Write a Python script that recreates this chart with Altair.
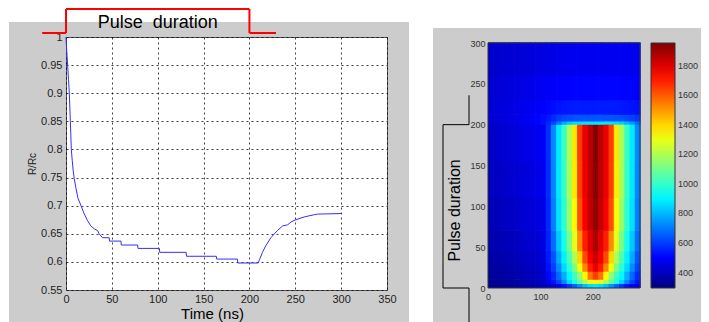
import altair as alt
import pandas as pd

# ---------------- left panel: R/Rc vs time ----------------
time_ns = [0.0, 0.8, 1.8, 2.7, 3.6, 4.7, 5.8, 6.8, 8.0, 9.0, 10.6, 13.1, 16.1, 19.7,
           23.3, 27.0, 31.4, 34.3, 36.1, 39.8, 47.1, 47.5, 59.9, 60.3, 78.1, 78.5,
           101.8, 102.2, 131.0, 131.4, 163.9, 164.3, 186.9, 187.3, 209.5, 211.0,
           214.2, 217.9, 223.4, 230.7, 236.2, 241.7, 245.3, 250.7, 259.8, 270.8,
           274.4, 300.0]
r_over_rc = [1.000, 0.975, 0.950, 0.925, 0.900, 0.852, 0.800, 0.780, 0.760, 0.748,
             0.733, 0.713, 0.701, 0.686, 0.674, 0.664, 0.658, 0.656, 0.650, 0.643,
             0.643, 0.637, 0.637, 0.630, 0.630, 0.624, 0.624, 0.617, 0.617, 0.610,
             0.610, 0.605, 0.605, 0.598, 0.598, 0.604, 0.617, 0.629, 0.643, 0.656,
             0.664, 0.666, 0.671, 0.675, 0.680, 0.684, 0.685, 0.686]
pulse_start_ns = 0
pulse_end_ns = 200
x_ticks = [0, 50, 100, 150, 200, 250, 300, 350]
y_ticks = [0.55, 0.6, 0.65, 0.7, 0.75, 0.8, 0.85, 0.9, 0.95, 1.0]

# ---------------- right panel: heat map ----------------
heat_x_edges = [0, 10, 20, 30, 40, 50, 60, 70, 80, 90, 100, 110, 120, 130, 140, 150,
                160, 170, 180, 190, 200, 210, 220, 230, 240, 250, 260, 270, 280, 290]
heat_y_edges = [0, 5, 10, 20, 30, 45, 70, 110, 155, 200, 204, 212, 230, 260, 300]
heat_values = [
    [320, 325, 330, 335, 340, 348, 356, 364, 372, 380, 395, 415, 440, 480, 530, 590, 660, 740, 810, 860, 880, 860, 810, 740, 660, 590, 530, 480, 440],
    [330, 335, 340, 345, 352, 360, 368, 376, 384, 392, 410, 470, 530, 610, 720, 850, 960, 1080, 1200, 1290, 1330, 1290, 1200, 1080, 960, 850, 720, 610, 530],
    [340, 345, 350, 356, 362, 370, 378, 386, 394, 402, 420, 500, 570, 670, 790, 910, 1020, 1150, 1340, 1560, 1650, 1560, 1340, 1150, 1020, 910, 790, 670, 570],
    [350, 355, 360, 366, 372, 380, 388, 396, 404, 412, 430, 525, 610, 730, 860, 980, 1120, 1320, 1530, 1700, 1780, 1700, 1530, 1320, 1120, 980, 860, 730, 610],
    [360, 365, 370, 376, 382, 390, 398, 406, 414, 422, 440, 540, 640, 780, 900, 1040, 1200, 1400, 1630, 1760, 1840, 1760, 1630, 1400, 1200, 1040, 900, 780, 640],
    [370, 376, 382, 388, 394, 402, 410, 418, 426, 434, 450, 555, 680, 830, 950, 1110, 1290, 1520, 1700, 1800, 1880, 1800, 1700, 1520, 1290, 1110, 950, 830, 680],
    [385, 391, 397, 403, 409, 417, 425, 433, 441, 449, 462, 565, 710, 870, 990, 1160, 1340, 1620, 1760, 1845, 1920, 1845, 1760, 1620, 1340, 1160, 990, 870, 710],
    [400, 406, 412, 418, 424, 432, 440, 448, 456, 464, 476, 572, 722, 882, 1005, 1185, 1365, 1645, 1775, 1855, 1935, 1855, 1775, 1645, 1365, 1185, 1005, 882, 722],
    [415, 421, 427, 433, 439, 447, 455, 463, 471, 479, 490, 575, 725, 885, 1010, 1190, 1370, 1650, 1780, 1860, 1945, 1860, 1780, 1650, 1370, 1190, 1010, 885, 725],
    [430, 436, 442, 448, 454, 462, 470, 480, 490, 505, 525, 560, 620, 700, 780, 830, 860, 870, 880, 880, 880, 880, 880, 870, 860, 840, 800, 750, 680],
    [432, 438, 444, 450, 456, 464, 472, 482, 492, 505, 520, 540, 570, 600, 620, 630, 640, 640, 640, 640, 640, 640, 640, 640, 635, 630, 620, 610, 590],
    [435, 440, 445, 450, 456, 463, 470, 478, 486, 494, 502, 510, 520, 530, 535, 540, 545, 545, 545, 545, 545, 545, 545, 545, 545, 540, 535, 530, 525],
    [430, 434, 438, 442, 446, 452, 458, 464, 470, 476, 482, 488, 492, 496, 500, 503, 505, 506, 507, 507, 507, 507, 507, 507, 507, 506, 505, 504, 503],
    [420, 423, 426, 429, 432, 436, 440, 444, 448, 452, 456, 460, 464, 468, 472, 474, 476, 478, 480, 480, 480, 480, 480, 480, 480, 480, 480, 480, 480],
]
heat_x_ticks = [0, 100, 200]
heat_y_ticks = [0, 50, 100, 150, 200, 250, 300]
colorbar_ticks = [400, 600, 800, 1000, 1200, 1400, 1600, 1800]
jet_stops = [295, 502.5, 917.5, 1332.5, 1747.5, 1955]
jet_colors = ["#00007f", "#0000ff", "#00ffff", "#ffff00", "#ff0000", "#7f0000"]

FONT = "Liberation Sans"
GRAY = "#cccccc"

line_df = pd.DataFrame({"t": time_ns, "r": r_over_rc})
one = pd.DataFrame({"k": [0]})

heat_rows = []
for j in range(len(heat_y_edges) - 1):
    for i in range(len(heat_x_edges) - 1):
        heat_rows.append({"x0": heat_x_edges[i], "x1": heat_x_edges[i + 1],
                          "y0": heat_y_edges[j], "y1": heat_y_edges[j + 1],
                          "v": heat_values[j][i]})
heat_df = pd.DataFrame(heat_rows)

# ---------- left chart ----------
xs = alt.Scale(domain=[0, 350], nice=False, zero=False)
ys = alt.Scale(domain=[0.55, 1.0], nice=False, zero=False)

# frame of the whole picture, relative to the left plot's top-left corner
PAD_LEFT = 58    # image x = 8
PAD_TOP = 29     # image y = 8
PAD_RIGHT = 635  # image x = 701 (page width limit)
PAD_BOTTOM = 285 # image y = 322

def white(x1, x2, y1, y2):
    return alt.Chart(one).mark_rect(color="white").encode(
        x=alt.value(x1), x2=alt.value(x2), y=alt.value(y1), y2=alt.value(y2))

whites = [
    white(-80, 700, -45, -15),
    white(343, 700, -15, -9),
    white(343, 367, -45, 320),
    white(-80, -57, -45, 320),
]

line = alt.Chart(line_df).mark_line(color="#3030ff", strokeWidth=1).encode(
    x=alt.X("t:Q", scale=xs, axis=alt.Axis(
        values=x_ticks, grid=True, gridDash=[2, 3], gridColor="#000", gridOpacity=0.75,
        domain=False, ticks=False, labelFlush=False, labelFontSize=11, labelColor="#222",
        labelFont=FONT, labelPadding=3, title="Time (ns)", titleFontSize=15,
        titleFontWeight="normal", titleColor="#000", titleFont=FONT, titleX=146,
        titleY=28, titleBaseline="alphabetic")),
    y=alt.Y("r:Q", scale=ys, axis=alt.Axis(
        values=y_ticks, format="~g", grid=True, gridDash=[2, 3], gridColor="#000",
        gridOpacity=0.75, domain=False, ticks=False, labelFlush=False, labelFontSize=11,
        labelColor="#222", labelFont=FONT, labelPadding=4, title="R/Rc", titleFontSize=10,
        titleFontWeight="normal", titleColor="#222", titleFont=FONT, titlePadding=3)),
)

red = dict(color="#ff0000", strokeWidth=2)
bracket = [
    alt.Chart(one).mark_rule(**red).encode(x=alt.datum(-26), x2=alt.datum(pulse_start_ns), y=alt.value(-4)),
    alt.Chart(one).mark_rule(**red).encode(x=alt.datum(pulse_start_ns), y=alt.value(-28), y2=alt.value(-4)),
    alt.Chart(one).mark_rule(**red).encode(x=alt.datum(pulse_start_ns), x2=alt.datum(pulse_end_ns), y=alt.value(-28)),
    alt.Chart(one).mark_rule(**red).encode(x=alt.datum(pulse_end_ns), y=alt.value(-28), y2=alt.value(-4)),
    alt.Chart(one).mark_rule(**red).encode(x=alt.datum(pulse_end_ns), x2=alt.datum(229), y=alt.value(-4)),
]
pulse_text = alt.Chart(one).mark_text(
    text="Pulse\u00a0 duration", fontSize=18, font=FONT, color="#000",
    align="center", baseline="alphabetic").encode(x=alt.datum(100), y=alt.value(-9))

left = alt.layer(*whites, line, *bracket, pulse_text).properties(
    width=321, height=253,
    view=alt.ViewBackground(fill="white", stroke="#555", strokeWidth=1))

# ---------- heat chart ----------
hx = alt.Scale(domain=[0, 290], nice=False, zero=False)
hy = alt.Scale(domain=[0, 300], range=[251, 6], nice=False, zero=False)
cscale = alt.Scale(domain=jet_stops, range=jet_colors, interpolate="rgb", clamp=True)

heat = alt.Chart(heat_df).mark_rect(strokeWidth=0, x2Offset=0.7, y2Offset=-0.7).encode(
    x=alt.X("x0:Q", scale=hx, axis=alt.Axis(
        values=heat_x_ticks, grid=False, domain=False, ticks=False, labelFlush=False,
        labelFontSize=9, labelColor="#333", labelFont=FONT, labelPadding=4, title=None)),
    x2="x1:Q",
    y=alt.Y("y0:Q", scale=hy, axis=alt.Axis(
        values=heat_y_ticks, grid=False, domain=False, ticks=False, labelFlush=False,
        labelFontSize=9, labelColor="#333", labelFont=FONT, labelPadding=3, title=None)),
    y2="y1:Q",
    color=alt.Color("v:Q", scale=cscale, legend=alt.Legend(
        type="gradient", orient="none", legendX=585, legendY=6, direction="vertical",
        gradientLength=245, gradientThickness=24, gradientStrokeColor="#333",
        gradientStrokeWidth=1, values=colorbar_ticks, labelFontSize=9,
        labelColor="#333", labelFont=FONT, labelOffset=3, labelOverlap=False,
        format="d", title=None)),
)

frame = alt.Chart(one).mark_rect(filled=False, stroke="#333", strokeWidth=1).encode(
    x=alt.datum(0), x2=alt.datum(290), y=alt.datum(0), y2=alt.datum(300))

blk = dict(color="#000", strokeWidth=1)
hbracket = [
    alt.Chart(one).mark_rule(**blk).encode(x=alt.value(-45), y=alt.datum(0), y2=alt.datum(200)),
    alt.Chart(one).mark_rule(**blk).encode(x=alt.value(-45), x2=alt.value(-19), y=alt.datum(200)),
    alt.Chart(one).mark_rule(**blk).encode(x=alt.value(-19), y=alt.datum(200), y2=alt.datum(236)),
    alt.Chart(one).mark_rule(**blk).encode(x=alt.value(-45), x2=alt.value(-19), y=alt.datum(0)),
    alt.Chart(one).mark_rule(**blk).encode(x=alt.value(-19), y=alt.datum(0), y2=alt.value(300)),
]
htext = alt.Chart(one).mark_text(
    text="Pulse duration", fontSize=16, font=FONT, color="#000", angle=270,
    align="center", baseline="middle").encode(x=alt.value(-33), y=alt.datum(95))

right = alt.layer(heat, frame, *hbracket, htext).properties(
    width=152, height=251,
    view=alt.ViewBackground(fill="transparent", stroke="transparent"))

chart = alt.hconcat(left, right, spacing=101, bounds="flush").properties(
    background=GRAY,
    autosize=alt.AutoSizeParams(type="none"),
    padding={"left": PAD_LEFT, "top": PAD_TOP, "right": PAD_RIGHT, "bottom": PAD_BOTTOM},
).configure(font=FONT)

chart.save("out.html", embed_options={"renderer": "svg", "actions": False})
